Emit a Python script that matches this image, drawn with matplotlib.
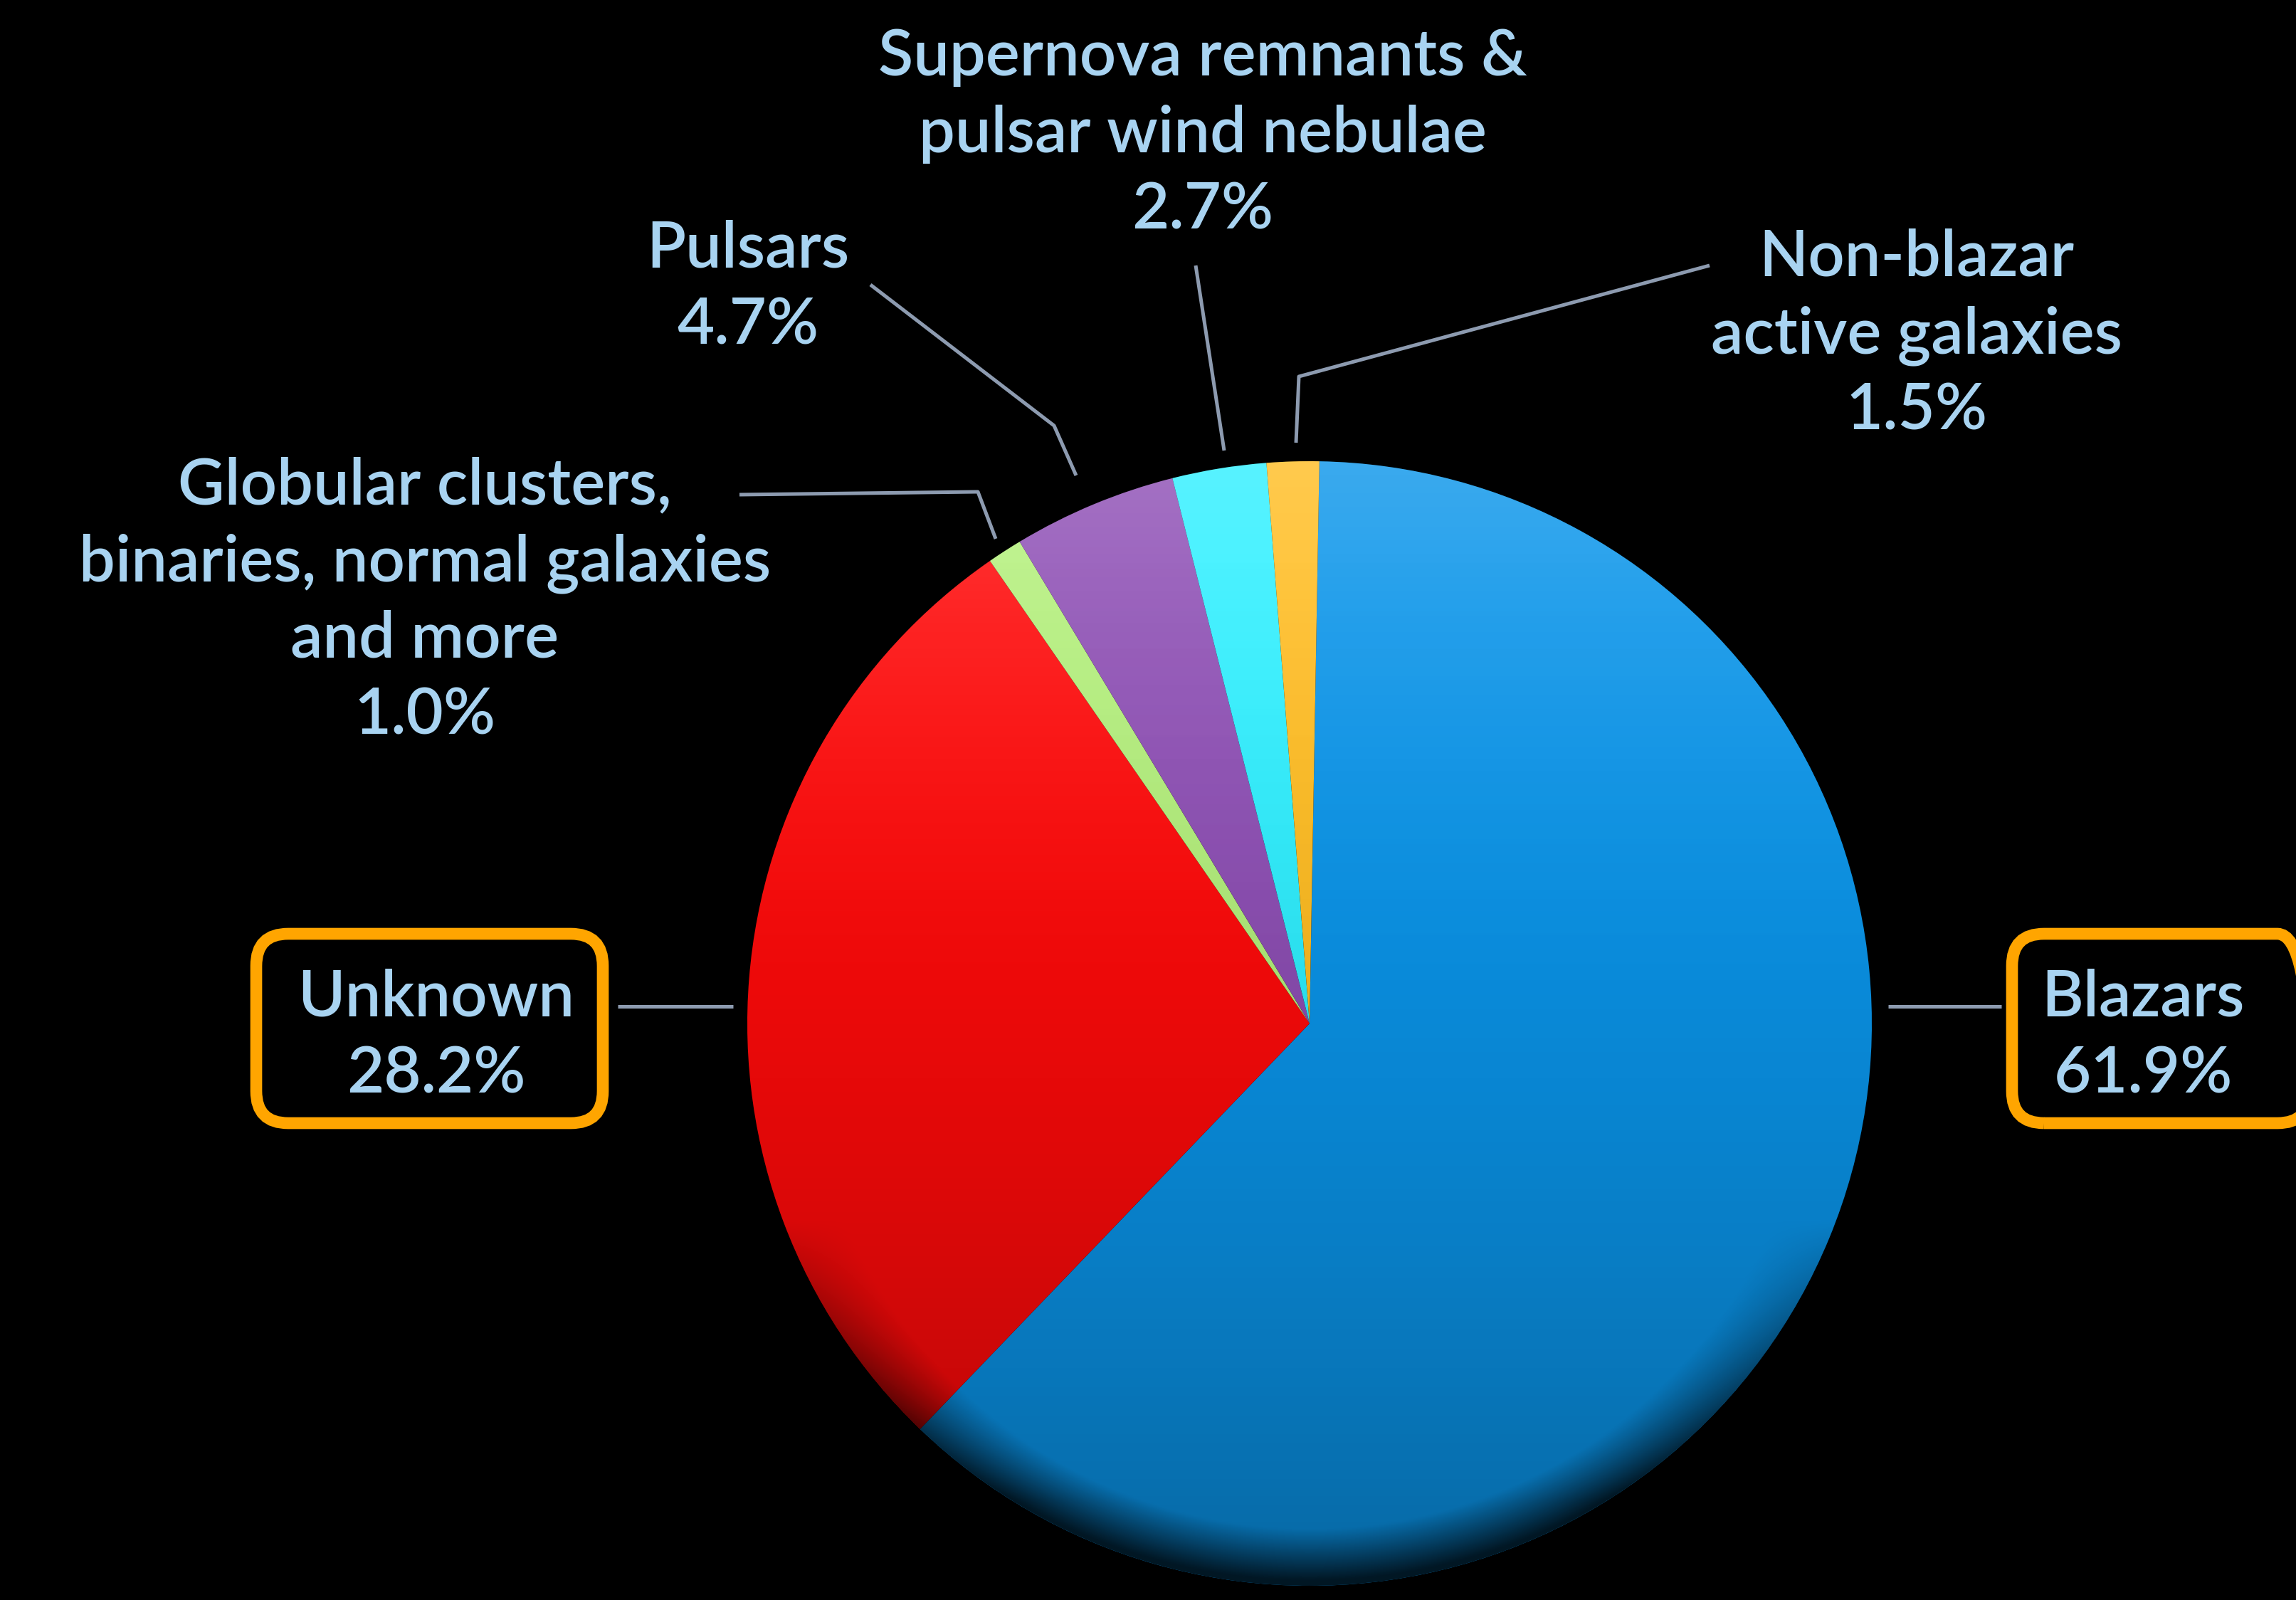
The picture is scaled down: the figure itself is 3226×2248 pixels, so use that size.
import numpy as np
import matplotlib
matplotlib.use("Agg")
import matplotlib.pyplot as plt
from matplotlib.patches import Circle, FancyBboxPatch

plt.rcParams['font.family'] = ['Lato', 'DejaVu Sans']

# ---------------- data ----------------
categories = ["Blazars", "Unknown",
              "Globular clusters,\nbinaries, normal galaxies\nand more",
              "Pulsars",
              "Supernova remnants &\npulsar wind nebulae",
              "Non-blazar\nactive galaxies"]
percent = [61.9, 28.2, 1.0, 4.7, 2.7, 1.5]
colors = ["#0a95ea", "#ff0a0a", "#b4f07c", "#8e4fb5", "#2ff0ff", "#ffbd22"]

# ---------------- layout (pixels, y from top) ----------------
W, H = 3226, 2248
label_pos = [(3011, 1428), (613, 1428), (597, 708), (1051, 376), (1690, 106), (2693, 388)]
line_step = 108
leaders = [
    [(2653, 1414), (2812, 1414)],
    [(868, 1414), (1030, 1414)],
    [(1039, 695), (1374, 691), (1399, 757)],
    [(1223, 400), (1481, 598), (1512, 668)],
    [(1680, 373), (1720, 633)],
    [(2402, 373), (1825, 529), (1821, 622)],
]
boxed = {0: (2827, 1312, 3245, 1578), 1: (360, 1312, 847, 1578)}

TEXT_C = "#a8d3f1"
LINE_C = "#8d9bb0"
BOX_C = "#ffa500"

fig = plt.figure(figsize=(W / 100, H / 100), dpi=100, facecolor="black")
ax = fig.add_axes([0, 0, 1, 1])
ax.set_facecolor("black")

cx, cy, R = 1840, H - 1438, 790
wedges, _ = ax.pie(percent, colors=colors, startangle=89, counterclock=False,
                   center=(cx, cy), radius=R, wedgeprops=dict(linewidth=0))

# shading overlay (lighter top, darker bottom, dark bottom rim)
n = 600
yy, xx = np.mgrid[0:n, 0:n]
t = yy / (n - 1)
u = xx / (n - 1) * 2 - 1
v = t * 2 - 1
r = np.sqrt(u ** 2 + v ** 2)
dark = 0.30 * t ** 1.8 + 0.6 * np.clip((r - 0.9) / 0.1, 0, 1) * np.clip((v - 0.35) / 0.5, 0, 1)
dark = np.clip(dark, 0, 0.85)
light = 0.20 * np.clip(1 - t * 1.8, 0, 1) ** 2
img_dark = np.zeros((n, n, 4)); img_dark[..., 3] = dark
img_light = np.ones((n, n, 4)); img_light[..., 3] = light
clip = Circle((cx, cy), R, transform=ax.transData)
for img in (img_light, img_dark):
    im = ax.imshow(img, extent=(cx - R, cx + R, cy - R, cy + R), origin="upper",
                   interpolation="bilinear", zorder=3)
    im.set_clip_path(clip)

# leader lines
for pts in leaders:
    xs = [p[0] for p in pts]
    ys = [H - p[1] for p in pts]
    ax.plot(xs, ys, color=LINE_C, lw=3.6, solid_capstyle="butt", zorder=4)

# labels
for i, (name, p) in enumerate(zip(categories, percent)):
    lines = name.split("\n") + [f"{p:.1f}%"]
    x0, b0 = label_pos[i]
    for k, ln in enumerate(lines):
        ax.text(x0, H - (b0 + k * line_step), ln, ha="center", va="baseline",
                fontsize=65, fontweight="semibold", color=TEXT_C, zorder=5)

# orange highlight boxes
for i, (x0, y0, x1, y1) in boxed.items():
    ax.add_patch(FancyBboxPatch((x0, H - y1), x1 - x0, y1 - y0,
                                boxstyle="round,pad=0,rounding_size=45",
                                ec=BOX_C, fc="none", lw=12, zorder=6))

ax.set_xlim(0, W)
ax.set_ylim(0, H)
ax.set_aspect("equal")
ax.axis("off")
fig.savefig("out.png", dpi=100, facecolor="black")
